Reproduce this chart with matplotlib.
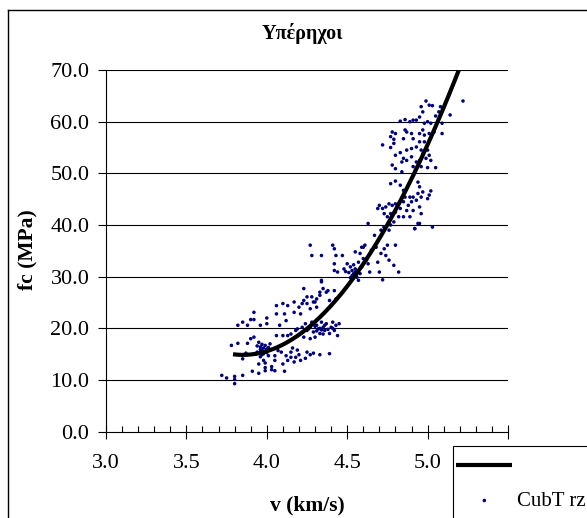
import matplotlib
matplotlib.use("Agg")
import matplotlib.pyplot as plt
from matplotlib.lines import Line2D
from matplotlib.patches import Rectangle
import numpy as np

plt.rcParams['font.family'] = ['Liberation Serif', 'DejaVu Serif']

# ---------------- data ----------------
title = "Υπέρηχοι"
x_label = "v (km/s)"
y_label = "fc (MPa)"
series_label = "CubT rz"
x_ticks = [3.0, 3.5, 4.0, 4.5, 5.0, 5.5]
y_ticks = [0.0, 10.0, 20.0, 30.0, 40.0, 50.0, 60.0, 70.0]

points_low = [
    (3.72, 10.9), (3.75, 10.4), (3.80, 10.7), (3.80, 10.1), (3.80, 9.3), (3.85, 10.9),
    (3.91, 11.7), (3.95, 11.3), (3.99, 11.8), (3.99, 12.4), (4.03, 12.0), (4.05, 11.8),
    (4.03, 12.6), (3.99, 13.3), (3.95, 13.1), (4.11, 11.7), (4.10, 13.1),
    (3.78, 16.7), (3.82, 17.1), (3.85, 14.1), (3.87, 15.2), (3.88, 17.1), (3.90, 18.0),
    (3.92, 18.3), (3.95, 17.3), (3.96, 16.4), (3.97, 15.7), (3.98, 15.1), (3.99, 16.7),
    (4.00, 16.0), (4.01, 14.7), (3.96, 14.5), (3.94, 15.4), (4.02, 17.0), (4.05, 14.7),
    (4.05, 13.8), (4.07, 15.7), (4.09, 15.4), (3.98, 13.8),
    (3.82, 20.6), (3.85, 21.2), (3.88, 20.6), (3.90, 21.7), (3.92, 21.7), (3.92, 23.1),
    (3.96, 20.6), (4.00, 22.0), (4.00, 20.9), (4.06, 22.8), (4.06, 24.4), (4.06, 18.6),
    (4.08, 20.6), (4.10, 18.6), (4.11, 22.8), (4.10, 24.8),
    (3.97, 16.9), (3.99, 15.5), (4.01, 16.3), (3.96, 15.9), (3.98, 16.2), (4.00, 15.3),
    (3.94, 16.6), (4.02, 15.8), (3.97, 14.9), (3.93, 15.0),
]

points_mid = [
    (4.12, 14.7), (4.13, 13.8), (4.15, 14.4), (4.17, 13.5), (4.18, 14.4), (4.20, 14.9),
    (4.21, 13.8), (4.25, 15.4), (4.27, 14.9), (4.29, 15.2), (4.33, 14.9), (4.39, 15.1),
    (4.15, 15.4), (4.24, 14.2), (4.19, 15.8), (4.16, 16.2),
    (4.13, 24.4), (4.17, 25.1), (4.17, 23.1), (4.20, 24.1), (4.22, 24.8), (4.23, 25.4),
    (4.21, 22.8), (4.25, 26.1), (4.27, 23.8), (4.29, 25.1), (4.31, 25.7), (4.33, 27.0),
    (4.35, 27.7), (4.37, 27.0), (4.34, 29.3), (4.13, 18.6), (4.15, 18.9), (4.18, 19.6),
    (4.12, 21.5),
    (4.19, 19.9), (4.22, 20.2), (4.24, 20.9), (4.25, 19.6), (4.27, 20.2), (4.28, 21.2),
    (4.29, 19.3), (4.31, 20.6), (4.32, 19.9), (4.33, 19.0), (4.34, 21.2), (4.35, 20.2),
    (4.36, 19.6), (4.37, 20.9), (4.39, 19.0), (4.40, 20.2), (4.41, 21.2), (4.42, 19.6),
    (4.43, 20.6), (4.44, 18.6), (4.45, 20.9), (4.30, 18.3), (4.27, 18.0), (4.23, 18.3),
    (4.23, 27.7), (4.28, 26.1), (4.33, 26.4), (4.34, 29.0), (4.38, 27.3), (4.39, 25.4),
    (4.42, 27.3), (4.43, 25.7), (4.25, 24.8), (4.30, 25.1), (4.31, 24.1),
    (4.30, 20.4), (4.33, 20.0), (4.36, 20.6), (4.38, 19.8), (4.31, 19.5), (4.34, 19.7),
    (4.41, 20.0), (4.29, 20.8), (4.26, 19.9), (4.35, 18.9),
]

points_upper_mid = [
    (4.27, 36.1), (4.28, 34.1), (4.34, 34.1), (4.41, 36.1), (4.42, 35.4), (4.43, 34.1),
    (4.47, 34.1), (4.42, 32.5), (4.42, 31.2), (4.44, 30.9), (4.48, 31.5), (4.50, 32.5),
    (4.52, 31.9), (4.53, 31.2), (4.54, 30.6), (4.55, 31.5), (4.56, 29.9), (4.57, 29.3),
    (4.58, 30.6), (4.59, 31.9), (4.55, 34.8), (4.58, 34.5), (4.59, 35.7), (4.61, 36.1),
    (4.62, 33.2), (4.63, 32.5), (4.64, 30.9), (4.65, 35.1), (4.67, 38.0), (4.68, 35.7),
    (4.69, 32.8), (4.70, 30.9), (4.72, 29.4), (4.71, 34.5), (4.73, 35.4), (4.74, 34.1),
    (4.75, 36.1), (4.76, 33.2), (4.79, 32.2), (4.80, 36.1), (4.82, 30.9), (4.63, 40.3),
    (4.60, 33.5), (4.57, 32.8), (4.60, 35.7), (4.71, 39.0), (4.73, 39.6), (4.76, 39.0),
    (4.77, 40.0), (4.92, 39.3), (4.94, 40.3),
    (4.51, 30.8), (4.53, 30.2), (4.55, 30.9), (4.49, 31.0), (4.54, 32.3), (4.52, 29.8),
]

points_high = [
    (4.99, 64.0), (5.01, 63.2), (5.03, 63.1), (4.96, 62.9), (4.97, 61.9), (4.95, 60.9),
    (4.93, 60.3), (4.91, 60.3), (4.89, 60.0), (4.86, 60.4), (4.83, 60.1), (5.08, 62.9),
    (5.07, 61.9), (5.05, 61.1), (5.14, 61.3), (5.09, 59.7), (5.22, 64.0), (5.00, 60.0),
    (5.02, 59.7), (4.98, 59.7), (4.97, 58.4), (4.95, 57.7), (4.98, 57.4), (5.01, 57.7),
    (5.04, 58.0), (5.09, 57.7), (4.78, 58.0), (4.80, 57.7), (4.86, 58.4), (4.87, 58.0),
    (4.79, 56.6), (4.79, 55.8), (4.72, 55.5), (4.77, 55.0), (4.85, 56.7), (4.90, 57.7),
    (4.91, 56.7), (4.95, 56.1), (4.98, 56.1), (4.93, 55.1), (4.90, 54.8), (4.87, 54.5),
    (4.83, 54.0), (4.96, 54.5), (5.00, 54.5), (5.01, 53.5), (4.99, 52.9), (5.02, 52.5),
    (4.97, 53.8), (4.95, 52.5), (4.93, 52.2), (4.90, 53.2), (4.87, 52.5), (4.85, 52.9),
    (4.84, 52.2), (4.80, 53.5), (4.78, 51.6), (4.80, 50.9), (4.84, 50.3), (4.91, 51.3),
    (4.96, 51.3), (5.00, 51.1), (5.05, 51.1), (4.77, 57.1),
    (4.77, 48.0), (4.80, 48.5), (4.83, 47.7), (4.85, 46.7), (4.94, 48.3), (4.95, 47.4),
    (5.02, 46.6), (5.01, 45.8), (5.00, 45.1), (4.97, 46.4), (4.96, 45.4), (4.94, 46.1),
    (4.91, 45.4), (4.89, 45.4), (4.86, 45.4), (4.85, 44.5), (4.82, 44.1), (4.80, 44.1),
    (4.78, 43.8), (4.76, 44.1), (4.74, 43.5), (4.72, 43.2), (4.69, 43.2), (4.70, 43.8),
    (4.88, 43.8), (4.90, 44.5), (4.93, 44.8), (4.95, 43.5), (4.91, 42.8), (4.87, 42.8),
    (4.83, 43.2), (4.80, 42.5), (4.77, 42.2), (4.75, 41.6), (4.73, 42.2), (4.76, 40.6),
    (4.82, 41.6), (4.89, 41.6), (4.85, 41.6), (4.96, 42.2), (4.95, 40.3), (5.03, 39.6),
    (4.92, 39.3), (4.79, 40.6), (4.73, 39.6),
]

# points read along the trendline (polynomial trendline of the series)
trend_v = [3.79, 4.27, 4.41, 4.54, 4.73, 4.75, 4.92, 5.06, 5.20]
trend_fc = [15.0, 20.3, 24.9, 29.9, 39.0, 40.0, 50.0, 60.0, 70.4]

# ---------------- figure ----------------
W, H = 587, 518
fig = plt.figure(figsize=(W / 100, H / 100), dpi=100)
fig.patch.set_facecolor('white')

left, right, top, bottom = 106, 508, 70, 431.7
ax = fig.add_axes([left / W, 1 - bottom / H, (right - left) / W, (bottom - top) / H])

all_pts = points_low + points_mid + points_upper_mid + points_high
xs = [p[0] for p in all_pts]
ys = [p[1] for p in all_pts]

ax.set_xlim(3.0, 5.5)
ax.set_ylim(0.0, 70.0)

for yv in y_ticks[1:]:
    ax.axhline(yv, color='black', lw=0.8, zorder=1)

sc = ax.scatter(xs, ys, s=6.5, color='#000080', edgecolors='none', zorder=3)

coef = np.polyfit(trend_v, trend_fc, 3)
tv = np.linspace(min(trend_v), max(trend_v), 200)
line, = ax.plot(tv, np.polyval(coef, tv), color='black', lw=3, zorder=4,
                solid_capstyle='butt')

for s in ['top', 'right']:
    ax.spines[s].set_visible(False)
for s in ['left', 'bottom']:
    ax.spines[s].set_color('black')
    ax.spines[s].set_linewidth(0.8)

ax.set_xticks(x_ticks)
ax.set_xticks(np.arange(3.0, 5.51, 0.1), minor=True)
ax.set_yticks(y_ticks)
ax.set_xticklabels([f"{t:.1f}" for t in x_ticks])
ax.set_yticklabels([f"{t:.1f}" for t in y_ticks])
ax.tick_params(axis='x', which='major', direction='inout', length=10, width=0.8,
               labelsize=16, pad=11)
ax.tick_params(axis='x', which='minor', direction='in', length=4, width=0.8)
ax.tick_params(axis='y', which='major', direction='out', length=6, width=0.8,
               labelsize=16, pad=6)

# texts
fig.text(302 / W, 1 - 34 / H, title, ha='center', va='center', fontsize=14.5,
         fontweight='bold')
fig.text(307 / W, 1 - 505 / H, x_label, ha='center', va='center', fontsize=15.5,
         fontweight='bold')
fig.text(27 / W, 1 - 250 / H, y_label, ha='center', va='center', fontsize=15.5,
         fontweight='bold', rotation=90)

# outer chart frame
fig.add_artist(Line2D([8 / W, 8 / W], [0, 1 - 10 / H], transform=fig.transFigure,
                      color='black', lw=1))
fig.add_artist(Line2D([8 / W, 1], [1 - 10 / H, 1 - 10 / H], transform=fig.transFigure,
                      color='black', lw=1))

# legend box (runs past the figure edge, as in the reference)
fig.add_artist(Rectangle((453 / W, -0.05), 0.5, (1 - 446 / H) + 0.05,
                         transform=fig.transFigure, facecolor='white',
                         edgecolor='black', lw=0.8, zorder=4))
leg = fig.legend([line, sc], [" ", series_label], loc='upper left',
                 bbox_to_anchor=(451 / W, 1 - 452 / H), fontsize=15,
                 frameon=False, borderpad=0.25, handlelength=2.7,
                 handletextpad=0.2, labelspacing=0.7, scatterpoints=1,
                 borderaxespad=0)
leg.set_zorder(5)

fig.savefig("out.png", dpi=100)
